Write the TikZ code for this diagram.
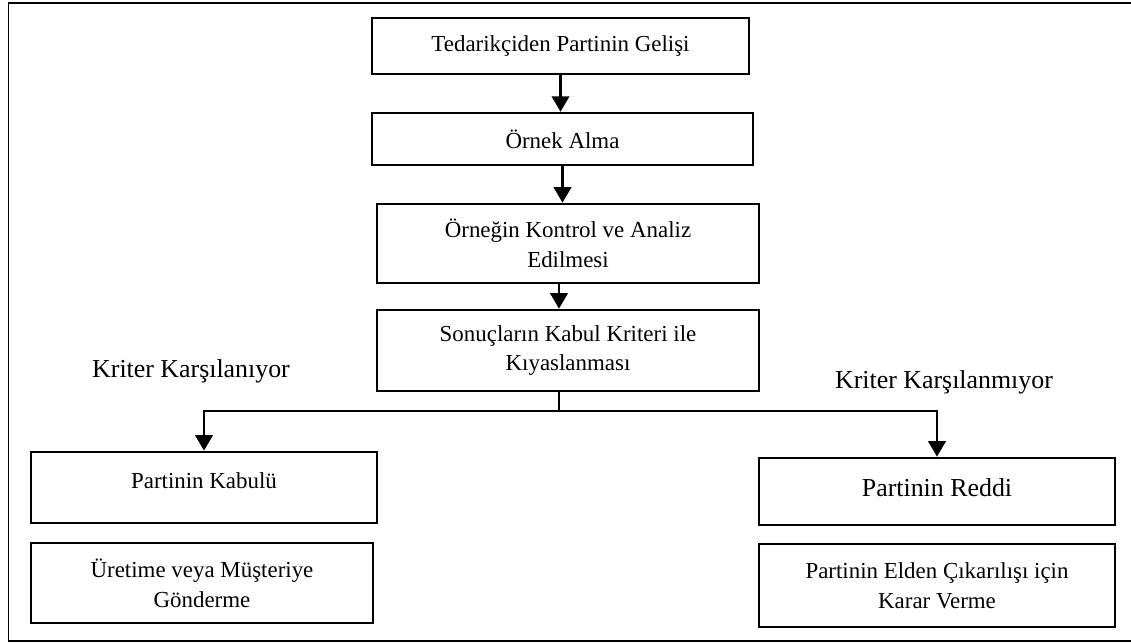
\documentclass[tikz,border=0pt]{standalone}
\usepackage{fontspec}
\setmainfont{Liberation Serif}
\usetikzlibrary{arrows.meta,calc}

\begin{document}
\begin{tikzpicture}[x=0.025cm,y=-0.025cm,
  kutu/.style={draw,line width=1.8pt,align=center,font=\fontsize{16.3}{21.3}\selectfont},
  ok/.style={line width=1.5pt,-{Triangle[length=11pt,width=12.5pt]}},
  etiket/.style={font=\fontsize{18.4}{22}\selectfont}]
\useasboundingbox (0,0) rectangle (1131,643);
\draw[line width=1.3pt] (1140,3) -- (8.5,3) -- (8.5,641) -- (1140,641);

\node[kutu,minimum width=9.43cm,minimum height=1.40cm] (gelis) at (560.5,46) {Tedarikçiden Partinin Gelişi};
\node[kutu,minimum width=9.53cm,minimum height=1.30cm] (ornek) at (562.5,139) {Örnek Alma};
\node[kutu,minimum width=9.55cm,minimum height=1.98cm] (analiz) at (568,243.5) {Örneğin Kontrol ve Analiz\\Edilmesi};
\node[kutu,minimum width=9.55cm,minimum height=2.03cm] (kiyas) at (568,350.5) {Sonuçların Kabul Kriteri ile\\Kıyaslanması};

\node[kutu,minimum width=8.65cm,minimum height=1.78cm,text depth=0.35cm] (kabul) at (204,487.5) {Partinin Kabulü};
\node[kutu,minimum width=8.55cm,minimum height=2.00cm] (uretim) at (202,583) {Üretime veya Müşteriye\\Gönderme};
\node[kutu,minimum width=8.90cm,minimum height=1.68cm,text depth=0.2cm,font=\fontsize{18.4}{22}\selectfont] (red) at (937,491.5) {Partinin Reddi};
\node[kutu,minimum width=8.90cm,minimum height=2.08cm] (karar) at (937,585.5) {Partinin Elden Çıkarılışı için\\Karar Verme};

\node[etiket] (evet) at (191,371) {Kriter Karşılanıyor};
\node[etiket] (hayir) at (944,382) {Kriter Karşılanmıyor};

\draw[ok] (gelis.south) -- (gelis.south |- ornek.north);
\draw[ok] (ornek.south) -- (ornek.south |- analiz.north);
\draw[ok] ($(analiz.south)+(-9,0)$) -- ($(kiyas.north)+(-9,0)$);

\coordinate (dal) at ($(kiyas.south)+(-9,19)$);
\draw[line width=1.5pt] ($(kiyas.south)+(-9,0)$) -- (dal);
\draw[ok] (dal) -| (kabul.north);
\draw[ok] (dal) -| (red.north);
\end{tikzpicture}
\end{document}
